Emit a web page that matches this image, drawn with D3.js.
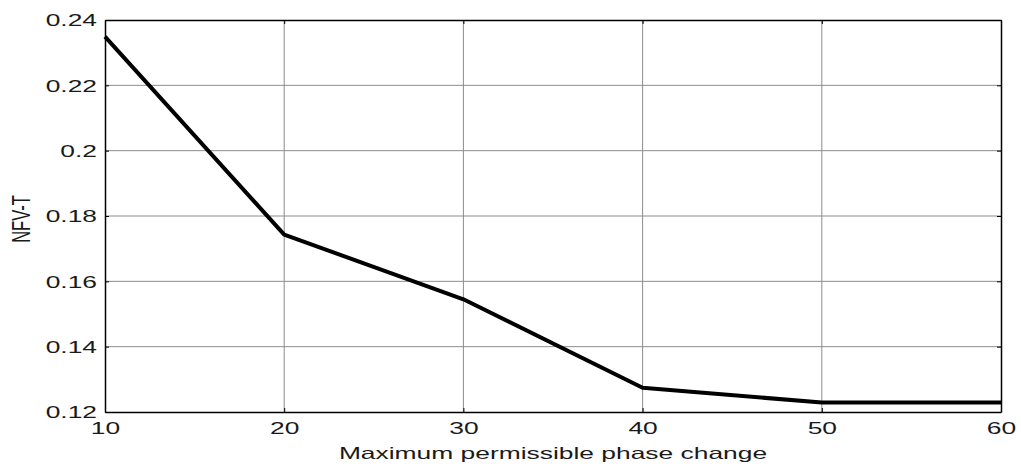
<!DOCTYPE html>
<html>
<head>
<meta charset="utf-8">
<script src="https://cdn.jsdelivr.net/npm/d3@7"></script>
<style>
  body { margin: 0; background: #fff; }
  svg text { font-family: "Liberation Sans", Arial, sans-serif; fill: #1a1a1a; }
</style>
</head>
<body>
<div id="vis"></div>
<script>
// values
var phaseChange = [10, 20, 30, 40, 50, 60];
var nfvT = [0.2349, 0.1743, 0.1545, 0.1274, 0.1229, 0.1229];
var xTicks = [10, 20, 30, 40, 50, 60];
var yTicks = [0.12, 0.14, 0.16, 0.18, 0.2, 0.22, 0.24];

var width = 1021;
var height = 466;
var margin = { top: 20, left: 105, bottom: 54, right: 20 };
var w = width - margin.left - margin.right;
var h = height - margin.top - margin.bottom;

// the original figure was stretched sideways, so text is too
var sx = 1.6;
var fontSize = "16.5px";

var svg = d3.select("#vis").append("svg")
  .attr("width", width)
  .attr("height", height);

var g = svg.append("g")
  .attr("transform", "translate(" + margin.left + "," + margin.top + ")");

var x = d3.scaleLinear().domain([10, 60]).range([0, w]);
var y = d3.scaleLinear().domain([0.12, 0.24]).range([h, 0]);

// grid
g.selectAll(".gx").data(xTicks.slice(1, -1)).enter().append("line")
  .attr("x1", function (d) { return x(d); })
  .attr("x2", function (d) { return x(d); })
  .attr("y1", 0).attr("y2", h)
  .attr("stroke", "#8c8c8c").attr("stroke-width", 1);

g.selectAll(".gy").data(yTicks.slice(1, -1)).enter().append("line")
  .attr("y1", function (d) { return y(d); })
  .attr("y2", function (d) { return y(d); })
  .attr("x1", 0).attr("x2", w)
  .attr("stroke", "#8c8c8c").attr("stroke-width", 1);

// inward ticks on all four sides
var fmtY = function (d) { return d === 0.2 ? "0.2" : d3.format(".2f")(d); };

var axBottom = g.append("g").attr("transform", "translate(0," + h + ")")
  .call(d3.axisBottom(x).tickValues(xTicks).tickSizeInner(-4).tickSizeOuter(0));
var axTop = g.append("g")
  .call(d3.axisTop(x).tickValues(xTicks).tickSizeInner(-4).tickSizeOuter(0).tickFormat(""));
var axLeft = g.append("g")
  .call(d3.axisLeft(y).tickValues(yTicks).tickSizeInner(-4).tickSizeOuter(0).tickFormat(fmtY));
var axRight = g.append("g").attr("transform", "translate(" + w + ",0)")
  .call(d3.axisRight(y).tickValues(yTicks).tickSizeInner(-4).tickSizeOuter(0).tickFormat(""));

[axBottom, axTop, axLeft, axRight].forEach(function (a) {
  a.select(".domain").attr("stroke", "#000").attr("stroke-width", 1.5);
  a.selectAll(".tick line").attr("stroke", "#000").attr("stroke-width", 1);
  a.selectAll(".tick text").style("font-size", fontSize).attr("fill", "#1a1a1a")
    .attr("transform", "scale(" + sx + ",1)");
});

axBottom.selectAll(".tick text").attr("x", 0).attr("y", 22.5).attr("dy", 0);
axLeft.selectAll(".tick text").attr("x", -8 / sx).attr("dy", "0.35em");

// data line
var line = d3.line()
  .x(function (d, i) { return x(phaseChange[i]); })
  .y(function (d) { return y(d); });

g.append("path")
  .datum(nfvT)
  .attr("d", line)
  .attr("fill", "none")
  .attr("stroke", "#000")
  .attr("stroke-width", 4)
  .attr("stroke-linejoin", "round");

// axis labels
svg.append("text")
  .attr("transform", "translate(" + (margin.left + w / 2) + ",459) scale(" + sx + ",1)")
  .attr("text-anchor", "middle")
  .style("font-size", fontSize)
  .text("Maximum permissible phase change");

svg.append("text")
  .attr("transform", "translate(30,219) scale(" + sx + ",1) rotate(-90)")
  .attr("text-anchor", "middle")
  .style("font-size", fontSize)
  .text("NFV-T");
</script>
</body>
</html>
